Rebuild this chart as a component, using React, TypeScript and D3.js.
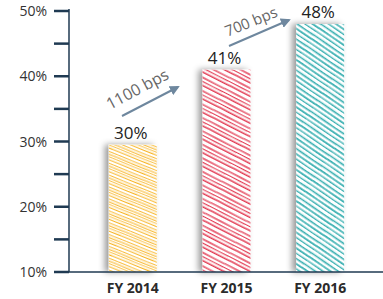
import React from "react";
import * as d3 from "d3";

const categories = ["FY 2014", "FY 2015", "FY 2016"];
const values = [29.5, 41, 48];
const valueLabels = ["30%", "41%", "48%"];
const yTicks = [10, 20, 30, 40, 50];
const yMinorTicks = [15, 25, 35, 45];
const colors = ["#f7b21e", "#e23a52", "#36aeb0"];
const changeLabels = ["1100 bps", "700 bps"];

const W = 383;
const H = 299;

// decorative hand-drawn hatch (offset, width) per bar colour
const hatchSets = [
  { h: 11, ang: 22, lines: [[0.6, 0.9], [3.2, 1.0], [5.6, 0.8], [8.3, 1.1]] },
  { h: 12, ang: 27, lines: [[1.0, 1.3], [4.6, 1.1], [8.2, 1.5]] },
  { h: 13, ang: 34, lines: [[1.0, 1.7], [5.2, 1.4], [9.6, 1.6]] },
];

export default function App() {
  const y = d3.scaleLinear().domain([10, 50]).range([272, 11]);
  const x = d3.scaleBand().domain(categories).range([62, 391]).paddingInner(0.488).paddingOuter(0.5);
  const axisX = 69;
  const bw = x.bandwidth();
  const font = "'Open Sans', 'Noto Sans', sans-serif";

  const cx = (c: string) => (x(c) as number) + bw / 2;

  const arrows = [
    { from: [122, 116], to: [178, 87], text: [140, 94], ang: -28, fs: 16 },
    { from: [229, 46], to: [289, 20], text: [253, 26.5], ang: -22, fs: 15 },
  ];

  return (
    <svg width={W} height={H} style={{ position: "absolute", left: 0, top: 0, background: "#fff" }}>
      <defs>
        {colors.map((c, i) => (
          <pattern
            key={i}
            id={`hatch${i}`}
            patternUnits="userSpaceOnUse"
            width={40}
            height={hatchSets[i].h}
            patternTransform={`rotate(${hatchSets[i].ang})`}
          >
            {hatchSets[i].lines.map((l, j) => (
              <path
                key={j}
                d={`M-1,${l[0]} C10,${l[0] - 0.5} 22,${l[0] + 0.6} 41,${l[0]}`}
                stroke={c}
                strokeWidth={l[1]}
                fill="none"
              />
            ))}
          </pattern>
        ))}
        <filter id="shadow" x="-50%" y="-5%" width="160%" height="110%">
          <feDropShadow dx={-4} dy={0} stdDeviation={3} floodColor="#000" floodOpacity={0.4} />
        </filter>
        <marker id="arrowhead" viewBox="0 0 10 10" refX={8} refY={5} markerWidth={5} markerHeight={5} orient="auto">
          <path d="M0,0 L10,5 L0,10 z" fill="#6e879e" />
        </marker>
      </defs>

      {categories.map((c, i) => (
        <g key={c}>
          <rect x={x(c)} y={y(values[i])} width={bw} height={y(10) - y(values[i])} fill="#fff" filter="url(#shadow)" />
          <rect x={x(c)} y={y(values[i])} width={bw} height={y(10) - y(values[i])} fill={`url(#hatch${i})`} />
          <text x={cx(c) - 2} y={y(values[i]) - 6} textAnchor="middle" fontFamily={font} fontSize={17} fill="#222">
            {valueLabels[i]}
          </text>
          <text x={cx(c)} y={293} textAnchor="middle" fontFamily={font} fontSize={14} fontWeight={700} fill="#2b2b2b">
            {c}
          </text>
        </g>
      ))}

      <line x1={axisX} x2={axisX} y1={9} y2={y(10)} stroke="#1f3a52" strokeWidth={1.5} />
      <line x1={axisX} x2={W} y1={y(10)} y2={y(10)} stroke="#1f3a52" strokeWidth={1.5} />
      {[...yTicks, ...yMinorTicks].map((t) => (
        <line key={t} x1={54} x2={axisX} y1={y(t)} y2={y(t)} stroke="#1f3a52" strokeWidth={2.5} />
      ))}
      {yTicks.map((t) => (
        <text key={t} x={47} y={y(t) + 5} textAnchor="end" fontFamily={font} fontSize={14} fill="#333">
          {`${t}%`}
        </text>
      ))}

      {arrows.map((a, i) => (
        <g key={i}>
          <line x1={a.from[0]} y1={a.from[1]} x2={a.to[0]} y2={a.to[1]} stroke="#6e879e" strokeWidth={2} markerEnd="url(#arrowhead)" />
          <text
            transform={`translate(${a.text[0]},${a.text[1]}) rotate(${a.ang})`}
            textAnchor="middle"
            fontFamily={font}
            fontSize={a.fs}
            fill="#666"
          >
            {changeLabels[i]}
          </text>
        </g>
      ))}
    </svg>
  );
}
